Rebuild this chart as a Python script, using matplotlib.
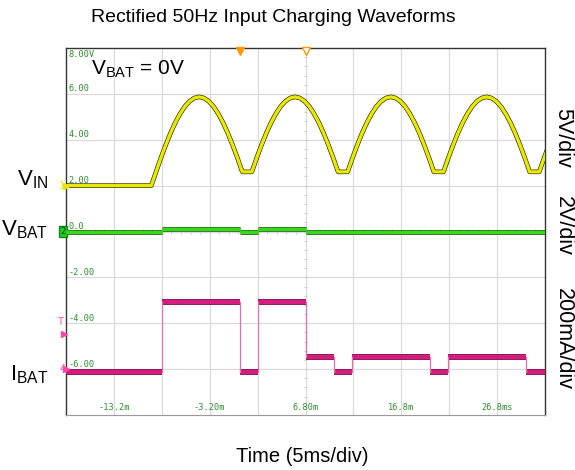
import numpy as np
import matplotlib
matplotlib.use("Agg")
import matplotlib.pyplot as plt

plt.rcParams['font.family'] = ['Liberation Sans', 'DejaVu Sans']

# screen: 10 x 5 ms horizontally, 8 divisions of "2.00" vertically
t_left, t_right = -18.2, 31.8
y_lo, y_hi = -8.0, 8.0

x_grid = [-13.2, -8.2, -3.2, 1.8, 6.8, 11.8, 16.8, 21.8, 26.8]
x_tick_pos = [-13.2, -3.2, 6.8, 16.8, 26.8]
x_tick_txt = ["-13.2m", "-3.20m", "6.80m", "16.8m", "26.8ms"]
y_grid = [-6, -4, -2, 0, 2, 4, 6]
y_tick_pos = [8, 6, 4, 2, 0, -2, -4, -6]
y_tick_txt = ["8.00V", "6.00", "4.00", "2.00", "0.0", "-2.00", "-4.00", "-6.00"]

# VIN (ch1): flat until the rectified input appears, then one half-cycle
# (10 ms, sampled every 0.5 ms) repeated
vin_start = -9.3
vin_flat = 2.00
vin_half = [2.60, 2.60, 3.20, 3.76, 4.28, 4.74, 5.13, 5.45, 5.68, 5.82,
            5.87, 5.82, 5.68, 5.45, 5.13, 4.74, 4.28, 3.76, 3.20, 2.60]
vin_step = 0.5

# VBAT (ch2)
vbat_t = [-18.2, -8.2, 0.0, 1.8, 6.8, 31.8]
vbat_v = [0.00, 0.10, 0.00, 0.10, 0.00, 0.00]

# IBAT (ch4)
ibat_t = [-18.2, -8.2, 0.0, 1.8, 6.8, 9.82, 11.7, 19.82, 21.7, 29.82, 31.8]
ibat_v = [-6.12, -3.07, -6.12, -3.07, -5.47, -6.12, -5.47, -6.12, -5.47, -6.12, -6.12]

n = int((t_right - vin_start) / vin_step) + 2
vin_t = [t_left] + [vin_start + vin_step * k for k in range(n)]
vin_v = list(np.tile(vin_half, n // len(vin_half) + 1)[:n])
vin_v[0] = vin_flat
vin_v = [vin_flat] + vin_v


def scope_step(ax, t, v, color, edge, lw, edge_lw, edge_color):
    # flat levels drawn as thick bands, edges as thin lines
    ax.hlines(v[:-1], t[:-1], t[1:], color=edge_color, lw=lw + 0.9, zorder=3)
    ax.hlines(v[:-1], t[:-1], t[1:], color=color, lw=lw, zorder=4)
    for i in range(1, len(t) - 1):
        ax.plot([t[i], t[i]], [v[i - 1], v[i]], color=edge, lw=edge_lw, zorder=4)


fig = plt.figure(figsize=(5.75, 4.70), dpi=100)
ax = fig.add_axes([66 / 575, 55 / 470, 479 / 575, 367 / 470])
ax.set_xlim(t_left, t_right)
ax.set_ylim(y_lo, y_hi)
ax.set_xticks([])
ax.set_yticks([])
for s in ['left', 'top', 'right']:
    ax.spines[s].set_color('#333333')
    ax.spines[s].set_linewidth(1.0)
ax.spines['bottom'].set_color('#999999')

gc = '#dadada'
for x in x_grid:
    ax.axvline(x, color=gc, lw=0.9, zorder=0)
for y in y_grid:
    ax.axhline(y, color=gc, lw=0.9, zorder=0)

# minor ticks on the centre cross
yt = np.arange(-7.6, 8.0, 0.4)
ax.hlines(yt, 6.6, 7.0, color='#d0d0d0', lw=0.8, zorder=0)
xt = np.arange(-18.2, 31.8, 1.0)
ax.vlines(xt, -0.09, 0.09, color='#d0d0d0', lw=0.8, zorder=0)

green_txt = '#2f8f2f'
for y, s in zip(y_tick_pos, y_tick_txt):
    va = 'top' if y == y_hi else 'bottom'
    ax.text(t_left + 0.25, y - 0.1 if y == y_hi else y + 0.02, s, family='DejaVu Sans Mono',
            fontsize=6.2, color=green_txt, ha='left', va=va)
for x, s in zip(x_tick_pos, x_tick_txt):
    ax.text(x, y_lo + 0.15, s, family='DejaVu Sans Mono', fontsize=6.2,
            color=green_txt, ha='center', va='bottom')

# traces
ax.plot(vin_t, vin_v, color='#262600', lw=3.3, solid_joinstyle='round', zorder=3)
ax.plot(vin_t, vin_v, color='#e8e800', lw=2.4, solid_joinstyle='round', zorder=4)

scope_step(ax, vbat_t, vbat_v, '#33dd11', '#44cc22', 2.4, 0.8, '#0f3f0f')
scope_step(ax, ibat_t, ibat_v, '#d81b80', '#e070b0', 3.2, 0.9, '#5a0030')

# trigger / delay markers on the top edge
ax.plot([0.0], [y_hi - 0.12], marker='v', color='#ff9900', ms=6, clip_on=False, zorder=6)
ax.plot([6.8], [y_hi - 0.12], marker='v', mfc='white', mec='#ff9900', ms=6,
        clip_on=False, zorder=6)

# channel ground markers on the left edge
ax.text(t_left - 0.1, 2.0, "1", color='#e6e600', fontsize=7, ha='right', va='center',
        family='DejaVu Sans Mono', clip_on=False)
ax.plot([t_left + 0.05], [2.0], marker='>', color='#e6e600', ms=4, clip_on=False, zorder=6)
ax.text(t_left - 0.05, 0.0, "2", color='#0a3a0a', fontsize=6.5, ha='right', va='center',
        family='DejaVu Sans Mono', clip_on=False,
        bbox=dict(boxstyle='square,pad=0.15', fc='#22cc22', ec='#118811'))
ax.text(t_left - 0.3, -3.95, "T", color='#ff44aa', fontsize=7, ha='right', va='center',
        family='DejaVu Sans Mono', clip_on=False)
ax.plot([t_left - 0.25], [-4.45], marker='>', color='#ff44aa', ms=4, clip_on=False, zorder=6)
ax.text(t_left - 0.1, -6.0, "4", color='#ff44aa', fontsize=7, ha='right', va='center',
        family='DejaVu Sans Mono', clip_on=False)
ax.plot([t_left + 0.05], [-6.0], marker='>', color='#ff44aa', ms=4, clip_on=False, zorder=6)

# labels
fig.text(273 / 575, 1 - 18 / 470, "Rectified 50Hz Input Charging Waveforms",
         fontsize=14, ha='center', va='center')
fig.text(302 / 575, 1 - 456 / 470, "Time (5ms/div)", fontsize=14.5, ha='center', va='center')
fig.text(91 / 575, 1 - 75 / 470, r"$\mathregular{V_{BAT}}$ = 0V", fontsize=15,
         ha='left', va='baseline')

fig.text(48 / 575, 1 - 185 / 470, r"$\mathregular{V_{IN}}$", fontsize=16, ha='right', va='baseline')
fig.text(48 / 575, 1 - 235 / 470, r"$\mathregular{V_{BAT}}$", fontsize=16, ha='right', va='baseline')
fig.text(48 / 575, 1 - 380 / 470, r"$\mathregular{I_{BAT}}$", fontsize=16, ha='right', va='baseline')

fig.text(563 / 575, 1 - 138 / 470, "5V/div", fontsize=15.5, rotation=270, ha='center', va='center')
fig.text(563 / 575, 1 - 226 / 470, "2V/div", fontsize=15.5, rotation=270, ha='center', va='center')
fig.text(563 / 575, 1 - 339 / 470, "200mA/div", fontsize=15.5, rotation=270, ha='center', va='center')

fig.savefig("out.png", dpi=100)
